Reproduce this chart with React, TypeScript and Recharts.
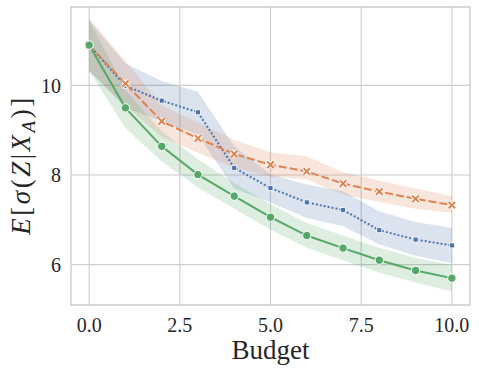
import React from "react";
import {
  ComposedChart,
  Area,
  Line,
  XAxis,
  YAxis,
  CartesianGrid,
  ReferenceArea,
  Label,
} from "recharts";

const budget = [0, 1, 2, 3, 4, 5, 6, 7, 8, 9, 10];

const greenMean = [10.9, 9.5, 8.64, 8.01, 7.53, 7.06, 6.65, 6.37, 6.1, 5.87, 5.7];
const greenLo = [10.32, 9.05, 8.3, 7.72, 7.25, 6.78, 6.38, 6.1, 5.82, 5.6, 5.4];
const greenHi = [11.45, 9.9, 8.98, 8.35, 7.82, 7.35, 6.93, 6.65, 6.38, 6.15, 6.0];

const orangeMean = [10.9, 10.04, 9.2, 8.82, 8.47, 8.23, 8.08, 7.81, 7.63, 7.47, 7.33];
const orangeLo = [10.32, 9.55, 8.85, 8.5, 8.16, 7.97, 7.9, 7.56, 7.4, 7.25, 7.16];
const orangeHi = [11.5, 10.55, 9.55, 9.17, 8.79, 8.51, 8.42, 8.06, 7.88, 7.7, 7.53];

const blueMean = [10.9, 9.99, 9.66, 9.4, 8.16, 7.71, 7.39, 7.22, 6.77, 6.56, 6.43];
const blueLo = [10.32, 9.5, 9.2, 8.9, 7.7, 7.39, 7.04, 6.86, 6.45, 6.2, 6.03];
const blueHi = [11.45, 10.49, 10.1, 9.86, 8.64, 8.01, 7.79, 7.64, 7.19, 6.95, 6.82];

const xTicks = [0, 2.5, 5, 7.5, 10];
const yTicks = [6, 8, 10];

const GREEN = "#55a868";
const ORANGE = "#dd8452";
const BLUE = "#4c72b0";
const TEXT = "#262626";
const GRID = "#cccccc";
const FONT = "'Liberation Serif', 'DejaVu Serif', serif";

const data = budget.map((x, i) => ({
  x,
  g: greenMean[i],
  gBand: [greenLo[i], greenHi[i]],
  o: orangeMean[i],
  oBand: [orangeLo[i], orangeHi[i]],
  b: blueMean[i],
  bBand: [blueLo[i], blueHi[i]],
}));

const CircleDot = (props: any) => {
  const { cx, cy, index } = props;
  if (cx == null || cy == null) return <g key={index} />;
  return <circle key={index} cx={cx} cy={cy} r={4.2} fill={GREEN} stroke="#fff" strokeWidth={1} />;
};

const SquareDot = (props: any) => {
  const { cx, cy, index } = props;
  if (cx == null || cy == null) return <g key={index} />;
  const s = 5;
  return (
    <rect key={index} x={cx - s / 2} y={cy - s / 2} width={s} height={s} fill={BLUE} stroke="#fff" strokeWidth={0.8} />
  );
};

const XDot = (props: any) => {
  const { cx, cy, index } = props;
  if (cx == null || cy == null) return <g key={index} />;
  const s = 3.2;
  const d = `M${cx - s},${cy - s}L${cx + s},${cy + s}M${cx - s},${cy + s}L${cx + s},${cy - s}`;
  return (
    <g key={index}>
      <path d={d} stroke="#fff" strokeWidth={4} strokeLinecap="butt" />
      <path d={d} stroke={ORANGE} strokeWidth={2} strokeLinecap="butt" />
    </g>
  );
};

const tickStyle = { fontFamily: FONT, fontSize: 20, fill: TEXT };

export default function App() {
  return (
    <div style={{ position: "absolute", left: 0, top: 0, background: "#fff" }}>
      <ComposedChart
        width={479}
        height={373}
        data={data}
        margin={{ top: 7, right: 9, bottom: 0, left: 0 }}
      >
        <CartesianGrid stroke={GRID} strokeWidth={1.1} horizontalValues={yTicks} verticalValues={xTicks} />
        <XAxis
          dataKey="x"
          type="number"
          domain={[-0.5, 10.5]}
          ticks={xTicks}
          tickFormatter={(v: number) => v.toFixed(1)}
          tick={tickStyle}
          tickLine={false}
          axisLine={false}
          tickSize={6}
          tickMargin={7}
          height={68}
          interval={0}
        >
          <Label
            content={() => (
              <text x={270.5} y={359} textAnchor="middle" fontFamily={FONT} fontSize={27} fill={TEXT}>
                Budget
              </text>
            )}
          />
        </XAxis>
        <YAxis
          type="number"
          domain={[5.1, 11.75]}
          ticks={yTicks}
          tick={tickStyle}
          tickLine={false}
          axisLine={false}
          tickSize={6}
          tickMargin={4}
          width={71}
          allowDataOverflow
        >
          <Label
            content={() => (
              <text
                x={30}
                y={165}
                transform="rotate(-90, 30, 165)"
                textAnchor="middle"
                fontFamily={FONT}
                fontSize={27}
                fill={TEXT}
                letterSpacing={2.5}
              >
                <tspan fontStyle="italic">E</tspan>
                <tspan>[</tspan>
                <tspan fontStyle="italic">σ</tspan>
                <tspan>(</tspan>
                <tspan fontStyle="italic">Z</tspan>
                <tspan>|</tspan>
                <tspan fontStyle="italic">X</tspan>
                <tspan fontStyle="italic" fontSize={19} dy={5}>A</tspan>
                <tspan dy={-5}>)</tspan>
                <tspan>]</tspan>
              </text>
            )}
          />
        </YAxis>
        <ReferenceArea
          x1={-0.5}
          x2={10.5}
          y1={5.1}
          y2={11.75}
          fill="none"
          stroke={GRID}
          strokeWidth={1.3}
          ifOverflow="visible"
        />
        <Area type="linear" dataKey="bBand" stroke="none" fill={BLUE} fillOpacity={0.2} isAnimationActive={false} activeDot={false} />
        <Area type="linear" dataKey="oBand" stroke="none" fill={ORANGE} fillOpacity={0.2} isAnimationActive={false} activeDot={false} />
        <Area type="linear" dataKey="gBand" stroke="none" fill={GREEN} fillOpacity={0.2} isAnimationActive={false} activeDot={false} />
        <Line type="linear" dataKey="b" stroke={BLUE} strokeWidth={2} strokeDasharray="2 2" dot={SquareDot} isAnimationActive={false} activeDot={false} />
        <Line type="linear" dataKey="o" stroke={ORANGE} strokeWidth={2} strokeDasharray="8 3" dot={XDot} isAnimationActive={false} activeDot={false} />
        <Line type="linear" dataKey="g" stroke={GREEN} strokeWidth={2} dot={CircleDot} isAnimationActive={false} activeDot={false} />
      </ComposedChart>
    </div>
  );
}
